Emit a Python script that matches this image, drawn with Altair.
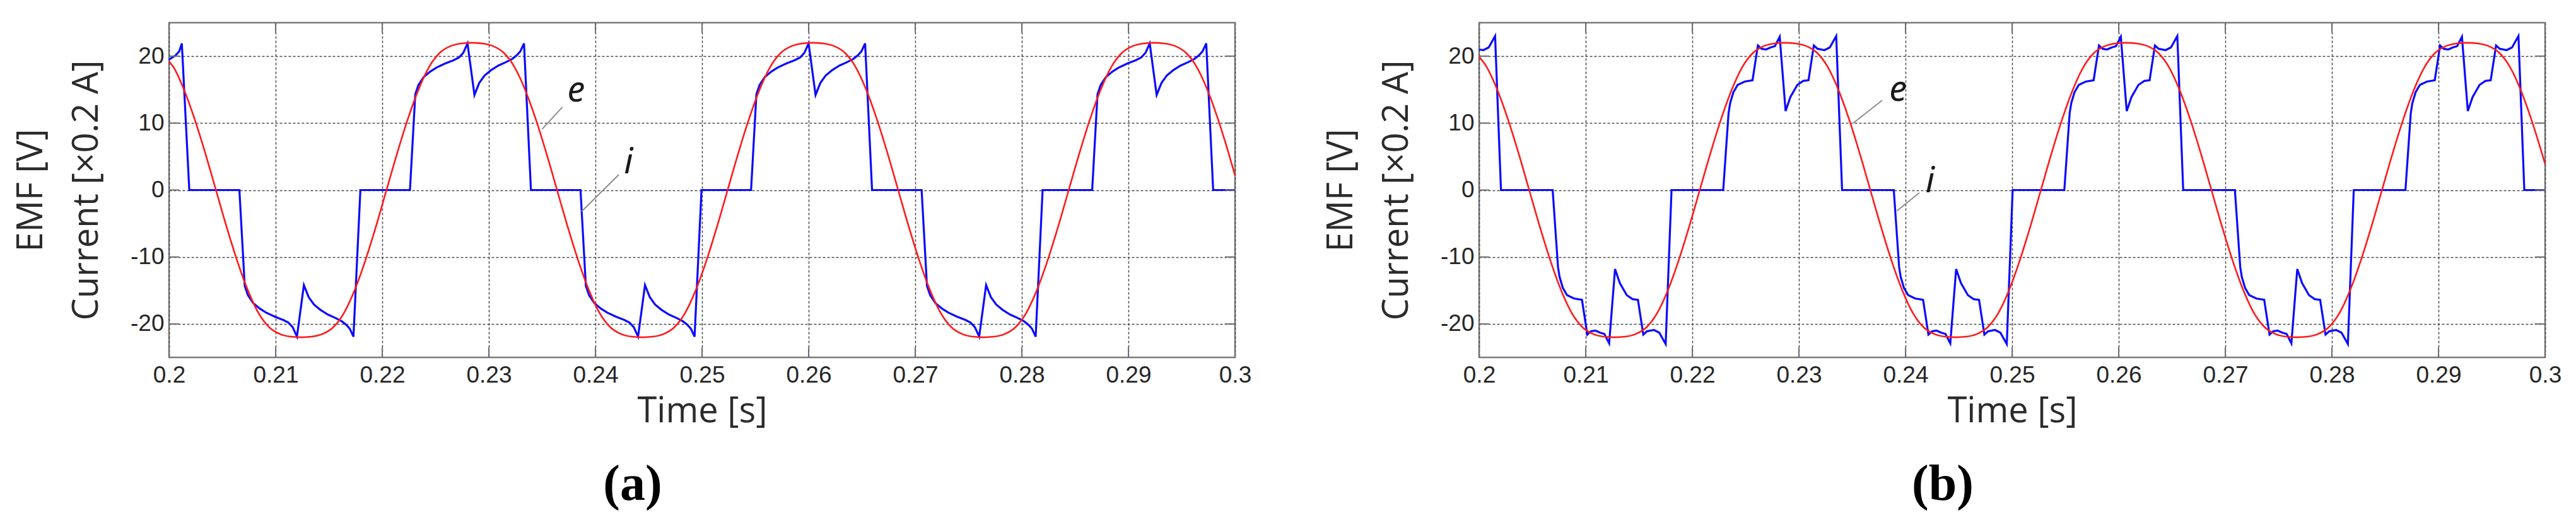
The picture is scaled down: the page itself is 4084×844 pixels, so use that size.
import altair as alt
import pandas as pd

# ---------------- data ----------------
X_TICKS = [0.2, 0.21, 0.22, 0.23, 0.24, 0.25, 0.26, 0.27, 0.28, 0.29, 0.3]
Y_TICKS = [-20, -10, 0, 10, 20]

# panel (a): EMF e (red)
A_E_T = [0.2000,
         0.2004, 0.2014, 0.2024, 0.2034, 0.2044, 0.2054, 0.2064, 0.2074, 0.2084, 0.2094,
         0.2104, 0.2114, 0.2124, 0.2134, 0.2144, 0.2154, 0.2164, 0.2174, 0.2184, 0.2194,
         0.2204, 0.2214, 0.2224, 0.2234, 0.2244, 0.2254, 0.2264, 0.2274, 0.2284, 0.2294,
         0.2304, 0.2314, 0.2324, 0.2334, 0.2344, 0.2354, 0.2364, 0.2374, 0.2384, 0.2394,
         0.2404, 0.2414, 0.2424, 0.2434, 0.2444, 0.2454, 0.2464, 0.2474, 0.2484, 0.2494,
         0.2504, 0.2514, 0.2524, 0.2534, 0.2544, 0.2554, 0.2564, 0.2574, 0.2584, 0.2594,
         0.2604, 0.2614, 0.2624, 0.2634, 0.2644, 0.2654, 0.2664, 0.2674, 0.2684, 0.2694,
         0.2704, 0.2714, 0.2724, 0.2734, 0.2744, 0.2754, 0.2764, 0.2774, 0.2784, 0.2794,
         0.2804, 0.2814, 0.2824, 0.2834, 0.2844, 0.2854, 0.2864, 0.2874, 0.2884, 0.2894,
         0.2904, 0.2914, 0.2924, 0.2934, 0.2944, 0.2954, 0.2964, 0.2974, 0.2984, 0.2994,
         0.3000]
A_E_V = [19.2,
         18.4, 15.0, 10.6, 5.5, 0, -5.5, -10.6, -15.0, -18.4, -20.5,
         -21.5, -21.9, -22.0, -21.9, -21.5, -20.5, -18.4, -15.0, -10.6, -5.5,
         0, 5.5, 10.6, 15.0, 18.4, 20.5, 21.5, 21.9, 22.0, 21.9,
         21.5, 20.5, 18.4, 15.0, 10.6, 5.5, 0, -5.5, -10.6, -15.0,
         -18.4, -20.5, -21.5, -21.9, -22.0, -21.9, -21.5, -20.5, -18.4, -15.0,
         -10.6, -5.5, 0, 5.5, 10.6, 15.0, 18.4, 20.5, 21.5, 21.9,
         22.0, 21.9, 21.5, 20.5, 18.4, 15.0, 10.6, 5.5, 0, -5.5,
         -10.6, -15.0, -18.4, -20.5, -21.5, -21.9, -22.0, -21.9, -21.5, -20.5,
         -18.4, -15.0, -10.6, -5.5, 0, 5.5, 10.6, 15.0, 18.4, 20.5,
         21.5, 21.9, 22.0, 21.9, 21.5, 20.5, 18.4, 15.0, 10.6, 5.5,
         2.2]

# panel (a): current i (blue)
A_I_T = [0.2000, 0.2006, 0.20095, 0.2012, 0.2019,
         0.2066, 0.2071, 0.2074, 0.2079, 0.2085, 0.2091, 0.2099, 0.2107, 0.2112, 0.2116, 0.2120,
         0.21265, 0.2131, 0.2136, 0.2142, 0.2149, 0.2156, 0.2162, 0.2166, 0.21695, 0.2173, 0.21795,
         0.2226, 0.2231, 0.2234, 0.2239, 0.2245, 0.2251, 0.2259, 0.2267, 0.2272, 0.2276, 0.2280,
         0.22865, 0.2291, 0.2296, 0.2302, 0.2309, 0.2316, 0.2322, 0.2326, 0.23295, 0.2333, 0.23395,
         0.2386, 0.2391, 0.2394, 0.2399, 0.2405, 0.2411, 0.2419, 0.2427, 0.2432, 0.2436, 0.2440,
         0.24465, 0.2451, 0.2456, 0.2462, 0.2469, 0.2476, 0.2482, 0.2486, 0.24895, 0.2493, 0.24995,
         0.2546, 0.2551, 0.2554, 0.2559, 0.2565, 0.2571, 0.2579, 0.2587, 0.2592, 0.2596, 0.2600,
         0.26065, 0.2611, 0.2616, 0.2622, 0.2629, 0.2636, 0.2642, 0.2646, 0.26495, 0.2653, 0.26595,
         0.2706, 0.2711, 0.2714, 0.2719, 0.2725, 0.2731, 0.2739, 0.2747, 0.2752, 0.2756, 0.2760,
         0.27665, 0.2771, 0.2776, 0.2782, 0.2789, 0.2796, 0.2802, 0.2806, 0.28095, 0.2813, 0.28195,
         0.2866, 0.2871, 0.2874, 0.2879, 0.2885, 0.2891, 0.2899, 0.2907, 0.2912, 0.2916, 0.2920,
         0.29265, 0.2931, 0.2936, 0.2942, 0.2949, 0.2956, 0.2962, 0.2966, 0.29695, 0.2973, 0.29795,
         0.3000]
A_I_V = [19.5, 20.1, 20.7, 21.9, 0,
         0, -14.3, -15.7, -16.9, -17.7, -18.3, -18.9, -19.4, -19.8, -20.5, -21.9,
         -14.2, -16.0, -17.1, -17.9, -18.6, -19.1, -19.6, -20.1, -20.7, -21.9, 0,
         0, 14.3, 15.7, 16.9, 17.7, 18.3, 18.9, 19.4, 19.8, 20.5, 21.9,
         14.2, 16.0, 17.1, 17.9, 18.6, 19.1, 19.6, 20.1, 20.7, 21.9, 0,
         0, -14.3, -15.7, -16.9, -17.7, -18.3, -18.9, -19.4, -19.8, -20.5, -21.9,
         -14.2, -16.0, -17.1, -17.9, -18.6, -19.1, -19.6, -20.1, -20.7, -21.9, 0,
         0, 14.3, 15.7, 16.9, 17.7, 18.3, 18.9, 19.4, 19.8, 20.5, 21.9,
         14.2, 16.0, 17.1, 17.9, 18.6, 19.1, 19.6, 20.1, 20.7, 21.9, 0,
         0, -14.3, -15.7, -16.9, -17.7, -18.3, -18.9, -19.4, -19.8, -20.5, -21.9,
         -14.2, -16.0, -17.1, -17.9, -18.6, -19.1, -19.6, -20.1, -20.7, -21.9, 0,
         0, 14.3, 15.7, 16.9, 17.7, 18.3, 18.9, 19.4, 19.8, 20.5, 21.9,
         14.2, 16.0, 17.1, 17.9, 18.6, 19.1, 19.6, 20.1, 20.7, 21.9, 0,
         0]

# panel (b): EMF e (red)
B_E_T = [0.2000,
         0.2007, 0.2017, 0.2027, 0.2037, 0.2047, 0.2057, 0.2067, 0.2077, 0.2087, 0.2097,
         0.2107, 0.2117, 0.2127, 0.2137, 0.2147, 0.2157, 0.2167, 0.2177, 0.2187, 0.2197,
         0.2207, 0.2217, 0.2227, 0.2237, 0.2247, 0.2257, 0.2267, 0.2277, 0.2287, 0.2297,
         0.2307, 0.2317, 0.2327, 0.2337, 0.2347, 0.2357, 0.2367, 0.2377, 0.2387, 0.2397,
         0.2407, 0.2417, 0.2427, 0.2437, 0.2447, 0.2457, 0.2467, 0.2477, 0.2487, 0.2497,
         0.2507, 0.2517, 0.2527, 0.2537, 0.2547, 0.2557, 0.2567, 0.2577, 0.2587, 0.2597,
         0.2607, 0.2617, 0.2627, 0.2637, 0.2647, 0.2657, 0.2667, 0.2677, 0.2687, 0.2697,
         0.2707, 0.2717, 0.2727, 0.2737, 0.2747, 0.2757, 0.2767, 0.2777, 0.2787, 0.2797,
         0.2807, 0.2817, 0.2827, 0.2837, 0.2847, 0.2857, 0.2867, 0.2877, 0.2887, 0.2897,
         0.2907, 0.2917, 0.2927, 0.2937, 0.2947, 0.2957, 0.2967, 0.2977, 0.2987, 0.2997,
         0.3000]
B_E_V = [19.9,
         18.4, 15.0, 10.6, 5.5, 0, -5.5, -10.6, -15.0, -18.4, -20.5,
         -21.5, -21.9, -22.0, -21.9, -21.5, -20.5, -18.4, -15.0, -10.6, -5.5,
         0, 5.5, 10.6, 15.0, 18.4, 20.5, 21.5, 21.9, 22.0, 21.9,
         21.5, 20.5, 18.4, 15.0, 10.6, 5.5, 0, -5.5, -10.6, -15.0,
         -18.4, -20.5, -21.5, -21.9, -22.0, -21.9, -21.5, -20.5, -18.4, -15.0,
         -10.6, -5.5, 0, 5.5, 10.6, 15.0, 18.4, 20.5, 21.5, 21.9,
         22.0, 21.9, 21.5, 20.5, 18.4, 15.0, 10.6, 5.5, 0, -5.5,
         -10.6, -15.0, -18.4, -20.5, -21.5, -21.9, -22.0, -21.9, -21.5, -20.5,
         -18.4, -15.0, -10.6, -5.5, 0, 5.5, 10.6, 15.0, 18.4, 20.5,
         21.5, 21.9, 22.0, 21.9, 21.5, 20.5, 18.4, 15.0, 10.6, 5.5,
         3.9]

# panel (b): current i (blue)
B_I_T = [0.2000, 0.2004, 0.2009, 0.2015, 0.20205,
         0.2069, 0.2074, 0.20755, 0.20785, 0.20825, 0.2089, 0.20965, 0.21015, 0.2105, 0.2109, 0.21135, 0.21175,
         0.2122, 0.21275, 0.2132, 0.21385, 0.2144, 0.2149, 0.2154, 0.21575, 0.2164, 0.2169, 0.2175, 0.21805,
         0.2229, 0.2234, 0.22355, 0.22385, 0.22425, 0.2249, 0.22565, 0.22615, 0.2265, 0.2269, 0.22735, 0.22775,
         0.2282, 0.22875, 0.2292, 0.22985, 0.2304, 0.2309, 0.2314, 0.23175, 0.2324, 0.2329, 0.2335, 0.23405,
         0.2389, 0.2394, 0.23955, 0.23985, 0.24025, 0.2409, 0.24165, 0.24215, 0.2425, 0.2429, 0.24335, 0.24375,
         0.2442, 0.24475, 0.2452, 0.24585, 0.2464, 0.2469, 0.2474, 0.24775, 0.2484, 0.2489, 0.2495, 0.25005,
         0.2549, 0.2554, 0.25555, 0.25585, 0.25625, 0.2569, 0.25765, 0.25815, 0.2585, 0.2589, 0.25935, 0.25975,
         0.2602, 0.26075, 0.2612, 0.26185, 0.2624, 0.2629, 0.2634, 0.26375, 0.2644, 0.2649, 0.2655, 0.26605,
         0.2709, 0.2714, 0.27155, 0.27185, 0.27225, 0.2729, 0.27365, 0.27415, 0.2745, 0.2749, 0.27535, 0.27575,
         0.2762, 0.27675, 0.2772, 0.27785, 0.2784, 0.2789, 0.2794, 0.27975, 0.2804, 0.2809, 0.2815, 0.28205,
         0.2869, 0.2874, 0.28755, 0.28785, 0.28825, 0.2889, 0.28965, 0.29015, 0.2905, 0.2909, 0.29135, 0.29175,
         0.2922, 0.29275, 0.2932, 0.29385, 0.2944, 0.2949, 0.2954, 0.29575, 0.2964, 0.2969, 0.2975, 0.29805,
         0.3000]
B_I_V = [21.0, 20.9, 21.3, 23.0, 0,
         0, -11.5, -13.0, -14.6, -15.7, -16.2, -16.4, -21.6, -21.1, -21.0, -21.3, -21.5,
         -22.9, -11.8, -13.9, -15.7, -16.3, -16.4, -21.6, -21.1, -20.9, -21.3, -23.0, 0,
         0, 11.5, 13.0, 14.6, 15.7, 16.2, 16.4, 21.6, 21.1, 21.0, 21.3, 21.5,
         22.9, 11.8, 13.9, 15.7, 16.3, 16.4, 21.6, 21.1, 20.9, 21.3, 23.0, 0,
         0, -11.5, -13.0, -14.6, -15.7, -16.2, -16.4, -21.6, -21.1, -21.0, -21.3, -21.5,
         -22.9, -11.8, -13.9, -15.7, -16.3, -16.4, -21.6, -21.1, -20.9, -21.3, -23.0, 0,
         0, 11.5, 13.0, 14.6, 15.7, 16.2, 16.4, 21.6, 21.1, 21.0, 21.3, 21.5,
         22.9, 11.8, 13.9, 15.7, 16.3, 16.4, 21.6, 21.1, 20.9, 21.3, 23.0, 0,
         0, -11.5, -13.0, -14.6, -15.7, -16.2, -16.4, -21.6, -21.1, -21.0, -21.3, -21.5,
         -22.9, -11.8, -13.9, -15.7, -16.3, -16.4, -21.6, -21.1, -20.9, -21.3, -23.0, 0,
         0, 11.5, 13.0, 14.6, 15.7, 16.2, 16.4, 21.6, 21.1, 21.0, 21.3, 21.5,
         22.9, 11.8, 13.9, 15.7, 16.3, 16.4, 21.6, 21.1, 20.9, 21.3, 23.0, 0,
         0]

# curve labels and their leader lines
LAB_TEXT = ["e", "i"]
A_LAB_T = [0.2382, 0.2431]
A_LAB_V = [14.8, 4.1]
A_LEAD_T1 = [0.2350, 0.2387]
A_LEAD_V1 = [9.1, -3.2]
A_LEAD_T2 = [0.2369, 0.2422]
A_LEAD_V2 = [12.4, 2.3]

B_LAB_T = [0.2393, 0.2423]
B_LAB_V = [14.9, 1.3]
B_LEAD_T1 = [0.2351, 0.2392]
B_LEAD_V1 = [10.0, -3.1]
B_LEAD_T2 = [0.2378, 0.2413]
B_LEAD_V2 = [13.4, -0.4]

Y_TITLE = ["EMF [V]", "Current [×0.2 A]"]
X_TITLE = "Time [s]"
PANEL_LABELS = ["(a)", "(b)"]

# ---------------- chart ----------------
W, H = 1690, 531
TICK_LEN = 16
TICK_COLOR = "#6e6e6e"

XS = alt.Scale(domain=[0.2, 0.3], nice=False, zero=False)
YS = alt.Scale(domain=[-25, 25], nice=False, zero=False)
XAXIS = alt.Axis(values=X_TICKS, labelExpr="'' + datum.value", title=X_TITLE,
                 grid=True, labelFlush=False, labelOverlap=False)
YAXIS = alt.Axis(values=Y_TICKS, labelExpr="'' + datum.value", title=Y_TITLE,
                 grid=True, labelOverlap=False)


def X(field="t"):
    return alt.X(f"{field}:Q", scale=XS, axis=XAXIS)


def Y(field="v"):
    return alt.Y(f"{field}:Q", scale=YS, axis=YAXIS)


def panel(e_t, e_v, i_t, i_v, lab_t, lab_v, l_t1, l_v1, l_t2, l_v2, label):
    cur = pd.DataFrame({"t": i_t, "v": i_v})
    emf = pd.DataFrame({"t": e_t, "v": e_v})
    xt = pd.DataFrame({"t": X_TICKS})
    yt = pd.DataFrame({"v": Y_TICKS})
    labs = pd.DataFrame({"t": lab_t, "v": lab_v, "txt": LAB_TEXT})
    leads = pd.DataFrame({"t": l_t1, "v": l_v1, "t2": l_t2, "v2": l_v2})

    blue = alt.Chart(cur).mark_line(color="#0a0aff", strokeWidth=3.2).encode(x=X(), y=Y())
    red = alt.Chart(emf).mark_line(color="#ff1a1a", strokeWidth=2.6,
                                   interpolate="monotone").encode(x=X(), y=Y())
    tick_b = alt.Chart(xt).mark_rule(color=TICK_COLOR, strokeWidth=2).encode(
        x=X(), y=alt.value(H), y2=alt.value(H - TICK_LEN))
    tick_t = alt.Chart(xt).mark_rule(color=TICK_COLOR, strokeWidth=2).encode(
        x=X(), y=alt.value(0), y2=alt.value(TICK_LEN))
    tick_l = alt.Chart(yt).mark_rule(color=TICK_COLOR, strokeWidth=2).encode(
        y=Y(), x=alt.value(0), x2=alt.value(TICK_LEN))
    tick_r = alt.Chart(yt).mark_rule(color=TICK_COLOR, strokeWidth=2).encode(
        y=Y(), x=alt.value(W), x2=alt.value(W - TICK_LEN))
    lead = alt.Chart(leads).mark_rule(color="#8c8c8c", strokeWidth=2).encode(
        x=X(), y=Y(), x2="t2:Q", y2="v2:Q")
    text = alt.Chart(labs).mark_text(font="Noto Sans", fontStyle="italic", fontSize=56,
                                      color="#1a1a1a", align="center", baseline="middle").encode(
        x=X(), y=Y(), text="txt:N")

    return alt.layer(blue, red, tick_b, tick_t, tick_l, tick_r, lead, text).properties(
        width=W, height=H,
        title=alt.TitleParams(label, orient="bottom", anchor="middle", frame="group",
                              dx=-110, font="Liberation Serif",
                              fontSize=80, fontWeight="bold", color="#000000", offset=50),
    )


pa = panel(A_E_T, A_E_V, A_I_T, A_I_V, A_LAB_T, A_LAB_V,
           A_LEAD_T1, A_LEAD_V1, A_LEAD_T2, A_LEAD_V2, PANEL_LABELS[0])
pb = panel(B_E_T, B_E_V, B_I_T, B_I_V, B_LAB_T, B_LAB_V,
           B_LEAD_T1, B_LEAD_V1, B_LEAD_T2, B_LEAD_V2, PANEL_LABELS[1])

chart = alt.hconcat(pa, pb, spacing=112).properties(
    padding={"left": 12, "top": 25, "right": 5, "bottom": 5},
    background="white",
).configure_view(
    stroke="#7a7a7a", strokeWidth=2.5
).configure_axis(
    domain=False, ticks=False, tickSize=0,
    labelFont="Liberation Sans", labelFontSize=37, labelColor="#262626",
    titleFont="Open Sans", titleFontSize=56, titleFontWeight="normal", titleColor="#2b2b2b",
    gridColor="#4a4a4a", gridDash=[4, 3], gridWidth=1.5, gridOpacity=1,
).configure_axisX(
    labelPadding=10, titlePadding=12,
).configure_axisY(
    labelPadding=8, titlePadding=40, titleLineHeight=88,
)

chart.save("out.html", embed_options={"renderer": "svg", "actions": False})
